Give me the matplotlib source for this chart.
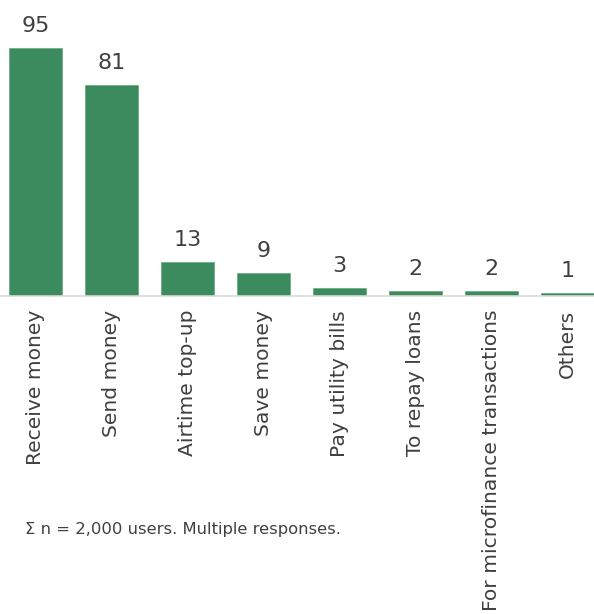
import matplotlib
matplotlib.use("Agg")
import matplotlib.pyplot as plt
import numpy as np

categories = [
    "Receive money",
    "Send money",
    "Airtime top-up",
    "Save money",
    "Pay utility bills",
    "To repay loans",
    "For microfinance transactions",
    "Others",
]
values = [95, 81, 13, 9, 3, 2, 2, 1]
note = "\u03a3 n = 2,000 users. Multiple responses."

BAR = "#3b8b5f"
TXT = "#404040"

plt.rcParams["font.family"] = ["DejaVu Sans"]

fig = plt.figure(figsize=(5.94, 6.14), dpi=100)
ax = fig.add_axes([0, 1 - 296 / 614, 1, 296 / 614])

x = np.arange(len(categories))
ax.bar(x, values, width=0.71, color=BAR, edgecolor="#6fae8a", linewidth=0.6)
ax.set_xlim(-35.5 / 76, (594 - 35.5) / 76)
ax.set_ylim(0, 296 / 2.61)

for xi, v in zip(x, values):
    ax.annotate(str(v), (xi, v), xytext=(0, 11.5), textcoords="offset points",
                ha="center", va="baseline", fontsize=16, color=TXT)

ax.set_xticks(x)
ax.set_xticklabels(categories, rotation=90, fontsize=14.6, color=TXT, va="top")
ax.tick_params(axis="x", length=0, pad=10)
ax.set_yticks([])
for s in ["top", "right", "left"]:
    ax.spines[s].set_visible(False)
ax.spines["bottom"].set_color("#d9d9d9")
ax.spines["bottom"].set_linewidth(1.2)

fig.text(25 / 594, 1 - 534 / 614, note, fontsize=11.8, color=TXT, ha="left", va="baseline")

fig.savefig("out.png", dpi=100)
